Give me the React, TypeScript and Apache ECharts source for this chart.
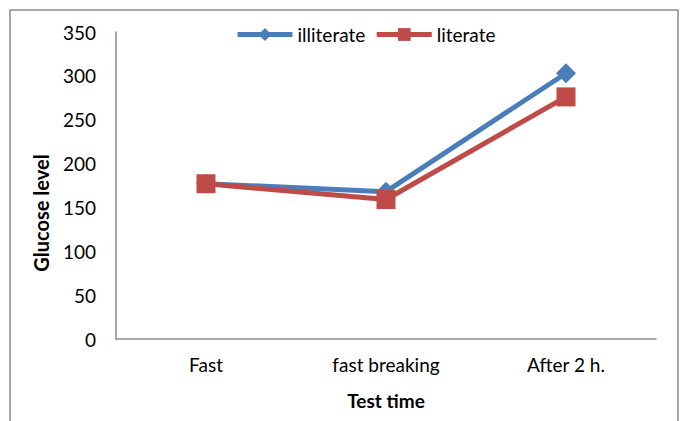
import React, { useEffect, useRef } from "react";
import * as echarts from "echarts";

const categories = ["Fast", "fast breaking", "After 2 h."];
const illiterate = [177, 168, 303];
const literate = [177, 159, 276];
const yTicks = { min: 0, max: 350, interval: 50 };
const xTitle = "Test time";
const yTitle = "Glucose level";

const FONT = "Lato, 'Open Sans', sans-serif";

export default function App() {
  const ref = useRef<HTMLDivElement>(null);
  useEffect(() => {
    if (!ref.current) return;
    const chart = echarts.init(ref.current, undefined, { renderer: "svg" });
    chart.setOption({
      animation: false,
      backgroundColor: "#ffffff",
      textStyle: { fontFamily: FONT },
      graphic: [
        {
          type: "rect",
          shape: { x: 10, y: 10, width: 668, height: 420 },
          style: { fill: "none", stroke: "#8c8c8c", lineWidth: 1.5 },
          silent: true,
        },
        {
          type: "text",
          x: 41,
          y: 213,
          rotation: Math.PI / 2,
          style: {
            text: yTitle,
            fontFamily: FONT,
            fontWeight: "bold",
            fontSize: 20,
            fill: "#000",
            align: "center",
            verticalAlign: "middle",
          },
        },
      ],
      legend: {
        top: 20,
        left: 230,
        itemWidth: 55,
        itemHeight: 16,
        itemGap: 9,
        lineStyle: { width: 5 },
        textStyle: { fontFamily: FONT, fontSize: 19, color: "#000" },
        data: ["illiterate", "literate"],
      },
      grid: { left: 116, right: 25, top: 32, bottom: 82 },
      xAxis: {
        type: "category",
        data: categories,
        boundaryGap: true,
        axisLine: { lineStyle: { color: "#8c8c8c", width: 1.5 } },
        axisTick: { show: false },
        axisLabel: { color: "#000", fontSize: 19, fontFamily: FONT, margin: 16 },
        name: xTitle,
        nameLocation: "middle",
        nameGap: 52,
        nameTextStyle: { fontWeight: "bold", fontSize: 19, color: "#000", fontFamily: FONT },
      },
      yAxis: {
        type: "value",
        min: yTicks.min,
        max: yTicks.max,
        interval: yTicks.interval,
        splitLine: { show: false },
        axisLine: { show: true, lineStyle: { color: "#8c8c8c", width: 1.5 } },
        axisTick: { show: false },
        axisLabel: { color: "#000", fontSize: 19, fontFamily: FONT, margin: 20 },
      },
      series: [
        {
          name: "illiterate",
          type: "line",
          data: illiterate,
          symbol: "diamond",
          symbolSize: 20,
          color: "#4a7ebb",
          lineStyle: { width: 5, color: "#4a7ebb" },
          itemStyle: { color: "#4a7ebb" },
        },
        {
          name: "literate",
          type: "line",
          data: literate,
          symbol: "rect",
          symbolSize: 19,
          color: "#be4b48",
          lineStyle: { width: 5, color: "#be4b48" },
          itemStyle: { color: "#be4b48" },
        },
      ],
    });
    return () => chart.dispose();
  }, []);
  return (
    <div
      ref={ref}
      style={{ position: "fixed", left: 0, top: 0, width: 681, height: 421 }}
    />
  );
}
